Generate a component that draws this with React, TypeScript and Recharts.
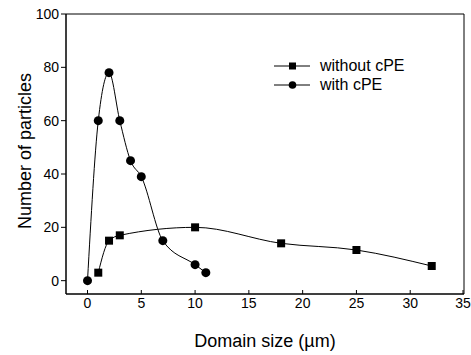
import React from "react";
import {
  LineChart,
  Line,
  XAxis,
  YAxis,
  Legend,
  ReferenceArea,
} from "recharts";

// with cPE (circles)
const withX = [0, 1, 2, 3, 4, 5, 7, 10, 11];
const withY = [0, 60, 78, 60, 45, 39, 15, 6, 3];

// without cPE (squares)
const withoutX = [1, 2, 3, 10, 18, 25, 32];
const withoutY = [3, 15, 17, 20, 14, 11.5, 5.5];

const xTicks = [0, 5, 10, 15, 20, 25, 30, 35];
const yTicks = [0, 20, 40, 60, 80, 100];

const withData = withX.map((x, i) => ({ x, y: withY[i] }));
const withoutData = withoutX.map((x, i) => ({ x, y: withoutY[i] }));

const FONT = "'Liberation Sans', Arial, Helvetica, sans-serif";
const X_TICK_MARGIN = 4;
const SQUARE = 8;
const RADIUS = 4.5;

const SquareDot = (props: any) => {
  const { cx, cy } = props;
  if (cx == null || cy == null) return null;
  return <rect x={cx - SQUARE / 2} y={cy - SQUARE / 2} width={SQUARE} height={SQUARE} fill="#000" />;
};

const CircleDot = (props: any) => {
  const { cx, cy } = props;
  if (cx == null || cy == null) return null;
  return <circle cx={cx} cy={cy} r={RADIUS} fill="#000" />;
};

// x ticks point inward (up), labels below the axis
const XTick = (props: any) => {
  const { x, y, payload } = props;
  const axisY = y - X_TICK_MARGIN;
  return (
    <g>
      <line x1={x} x2={x} y1={axisY} y2={axisY - 4} stroke="#000" />
      <text x={x} y={y} dy="0.71em" textAnchor="middle" fontSize={14} fill="#000" fontFamily={FONT}>
        {payload.value}
      </text>
    </g>
  );
};

const YLabel = (props: any) => {
  const { viewBox } = props;
  const cx = 25;
  const cy = viewBox.y + viewBox.height / 2 - 3;
  return (
    <text
      x={cx}
      y={cy}
      transform={`rotate(-90, ${cx}, ${cy})`}
      textAnchor="middle"
      dominantBaseline="central"
      fontSize={18}
      fill="#000"
      fontFamily={FONT}
    >
      Number of particles
    </text>
  );
};

const LegendContent = () => {
  const rows = [
    { name: "without cPE", marker: "square" },
    { name: "with cPE", marker: "circle" },
  ];
  return (
    <div style={{ fontFamily: FONT, fontSize: 16, color: "#000" }}>
      {rows.map((r) => (
        <div key={r.name} style={{ display: "flex", alignItems: "center", height: 19 }}>
          <svg width={38} height={12} style={{ marginRight: 9 }}>
            <line x1={1} x2={37} y1={6} y2={6} stroke="#000" />
            {r.marker === "square" ? (
              <rect x={16} y={2.5} width={7} height={7} fill="#000" />
            ) : (
              <circle cx={19.5} cy={6} r={3.8} fill="#000" />
            )}
          </svg>
          <span>{r.name}</span>
        </div>
      ))}
    </div>
  );
};

export default function App() {
  return (
    <div style={{ position: "absolute", left: 0, top: 0, background: "#fff" }}>
      <LineChart
        width={471}
        height={355}
        margin={{ top: 14, right: 7, bottom: 0, left: 0 }}
        style={{ fontFamily: FONT }}
      >
        <XAxis
          type="number"
          dataKey="x"
          domain={[-2, 35]}
          ticks={xTicks}
          allowDataOverflow
          height={61}
          stroke="#000"
          tickLine={false}
          tickSize={0}
          tickMargin={X_TICK_MARGIN}
          tick={<XTick />}
          label={{
            value: "Domain size (\u00b5m)",
            position: "insideBottom",
            offset: 8,
            fill: "#000",
            fontSize: 18,
          }}
        />
        <YAxis
          type="number"
          dataKey="y"
          domain={[-5, 100]}
          ticks={yTicks}
          allowDataOverflow
          width={66}
          stroke="#000"
          tickSize={5}
          tickMargin={2}
          tick={{ fill: "#000", fontSize: 14 }}
          label={<YLabel />}
        />
        <ReferenceArea x1={-2} x2={35} y1={-5} y2={100} fill="none" stroke="#000" ifOverflow="visible" />
        <Legend
          layout="vertical"
          align="center"
          verticalAlign="middle"
          content={<LegendContent />}
          wrapperStyle={{ top: 56, left: 273, width: 150, height: 40 }}
        />
        <Line
          name="without cPE"
          data={withoutData}
          dataKey="y"
          type="monotone"
          stroke="#000"
          strokeWidth={1}
          dot={<SquareDot />}
          activeDot={false}
          isAnimationActive={false}
        />
        <Line
          name="with cPE"
          data={withData}
          dataKey="y"
          type="monotone"
          stroke="#000"
          strokeWidth={1}
          dot={<CircleDot />}
          activeDot={false}
          isAnimationActive={false}
        />
      </LineChart>
    </div>
  );
}
